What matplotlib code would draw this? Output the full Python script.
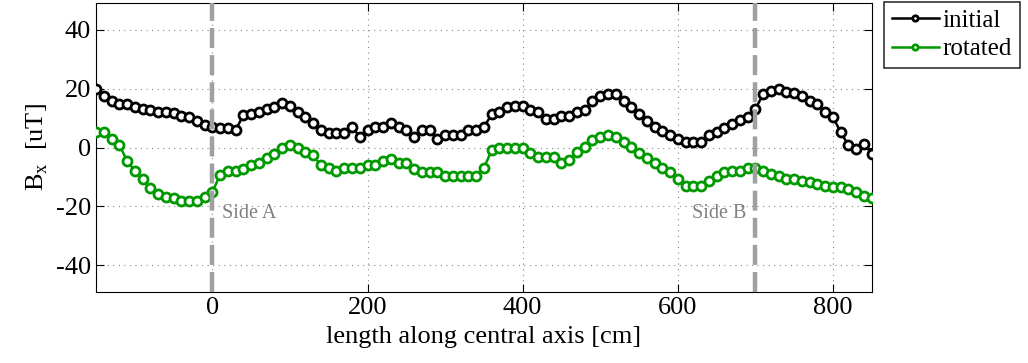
import matplotlib
matplotlib.use('Agg')
import matplotlib.pyplot as plt
import numpy as np

# positions along the central axis, every 10 cm
length_cm = np.arange(-150, 851, 10)

bx_initial = [
    20.0, 17.6, 15.7, 14.8, 14.8, 13.9, 13.1, 12.8, 12.0, 12.0,
    11.6, 10.8, 10.3, 8.9, 7.8, 7.1, 6.7, 6.7, 5.8, 11.1,
    11.4, 12.0, 13.1, 13.9, 15.0, 14.2, 12.0, 10.3, 8.2, 6.0,
    5.0, 5.0, 5.0, 6.9, 3.7, 6.0, 6.9, 6.9, 8.2, 6.9,
    5.8, 3.7, 6.0, 6.0, 2.9, 4.1, 4.1, 4.1, 6.0, 6.0,
    6.9, 11.2, 12.0, 13.9, 14.2, 14.2, 12.8, 12.0, 9.7, 9.7,
    10.8, 10.8, 12.0, 12.8, 15.7, 17.6, 18.0, 18.0, 15.9, 13.9,
    11.2, 8.9, 7.1, 5.5, 4.4, 2.9, 1.8, 1.8, 1.8, 4.1,
    5.2, 6.7, 8.0, 9.4, 10.5, 13.1, 18.0, 19.1, 19.9, 18.7,
    18.4, 17.6, 15.9, 14.8, 12.0, 10.3, 5.2, 0.7, -0.5, 1.2,
    -2.1,
]

bx_rotated = [
    5.2, 5.2, 2.9, 1.0, -4.6, -7.8, -10.6, -13.7, -15.9, -16.8,
    -17.1, -18.0, -18.0, -18.0, -16.8, -15.1, -9.2, -8.0, -8.0, -7.2,
    -6.1, -5.3, -3.5, -2.1, -0.1, 1.0, -0.1, -1.6, -2.7, -6.1,
    -6.9, -8.0, -6.9, -6.9, -6.9, -6.1, -6.1, -4.6, -3.8, -5.3,
    -5.3, -7.2, -8.4, -8.4, -8.4, -9.5, -9.5, -9.5, -9.5, -9.5,
    -6.9, -1.0, -0.1, -0.1, -0.1, -0.1, -1.9, -3.1, -3.1, -3.1,
    -5.3, -4.2, -1.6, 0.3, 2.6, 3.5, 4.1, 3.5, 1.8, 0.1,
    -1.9, -3.5, -5.3, -6.9, -8.4, -10.6, -12.9, -13.2, -13.2, -11.2,
    -9.8, -8.4, -7.8, -7.8, -6.9, -6.9, -8.0, -8.9, -9.5, -10.6,
    -10.6, -11.2, -11.8, -12.5, -13.2, -13.4, -13.4, -14.0, -15.1, -16.3,
    -17.1,
]

side_pos = [0, 700]
side_labels = ['Side A', 'Side B']

plt.rcParams['font.family'] = ['Liberation Serif', 'DejaVu Serif']
plt.rcParams['mathtext.fontset'] = 'custom'
plt.rcParams['mathtext.rm'] = 'Liberation Serif'
plt.rcParams['axes.unicode_minus'] = False

fig = plt.figure(figsize=(10.28, 3.63), dpi=100)
ax = fig.add_axes([0.0934, 0.1956, 0.7546, 0.7961])

green = '#009900'
ax.plot(length_cm, bx_initial, '-o', color='black', lw=1.8, ms=6.5,
        mew=2.0, mfc='white', mec='black', label='initial', zorder=3)
ax.plot(length_cm, bx_rotated, '-o', color=green, lw=1.8, ms=6.5,
        mew=2.0, mfc='white', mec=green, label='rotated', zorder=3)

for xp in side_pos:
    ax.axvline(xp, color='#a0a0a0', lw=3.2, linestyle=(0, (4.5, 1.6)), zorder=4)
ax.text(side_pos[0] + 13, -22.5, side_labels[0], color='#808080',
        fontsize=14.5, ha='left', va='center')
ax.text(side_pos[1] - 12, -22.5, side_labels[1], color='#808080',
        fontsize=14.5, ha='right', va='center')

ax.set_xlim(-150, 850)
ax.set_ylim(-49, 49)
ax.set_xticks([0, 200, 400, 600, 800])
ax.set_yticks([-40, -20, 0, 20, 40])
ax.tick_params(direction='in', top=True, right=True, labelsize=19, length=6)
ax.grid(True, linestyle=(0, (1, 4)), color='#888888', lw=0.8)
ax.set_axisbelow(True)

ax.set_xlabel('length along central axis [cm]', fontsize=19, labelpad=5)
ax.set_ylabel(r'B$_\mathregular{x}$  [uT]', fontsize=19, labelpad=4)

leg = ax.legend(loc='upper left', bbox_to_anchor=(1.016, 1.005), fontsize=18,
                frameon=True, fancybox=False, edgecolor='black',
                handlelength=1.9, handletextpad=0.15, borderpad=0.3,
                labelspacing=0.25, markerscale=0.6, borderaxespad=0)
leg.get_frame().set_linewidth(1.2)

fig.savefig('out.png', dpi=100)
